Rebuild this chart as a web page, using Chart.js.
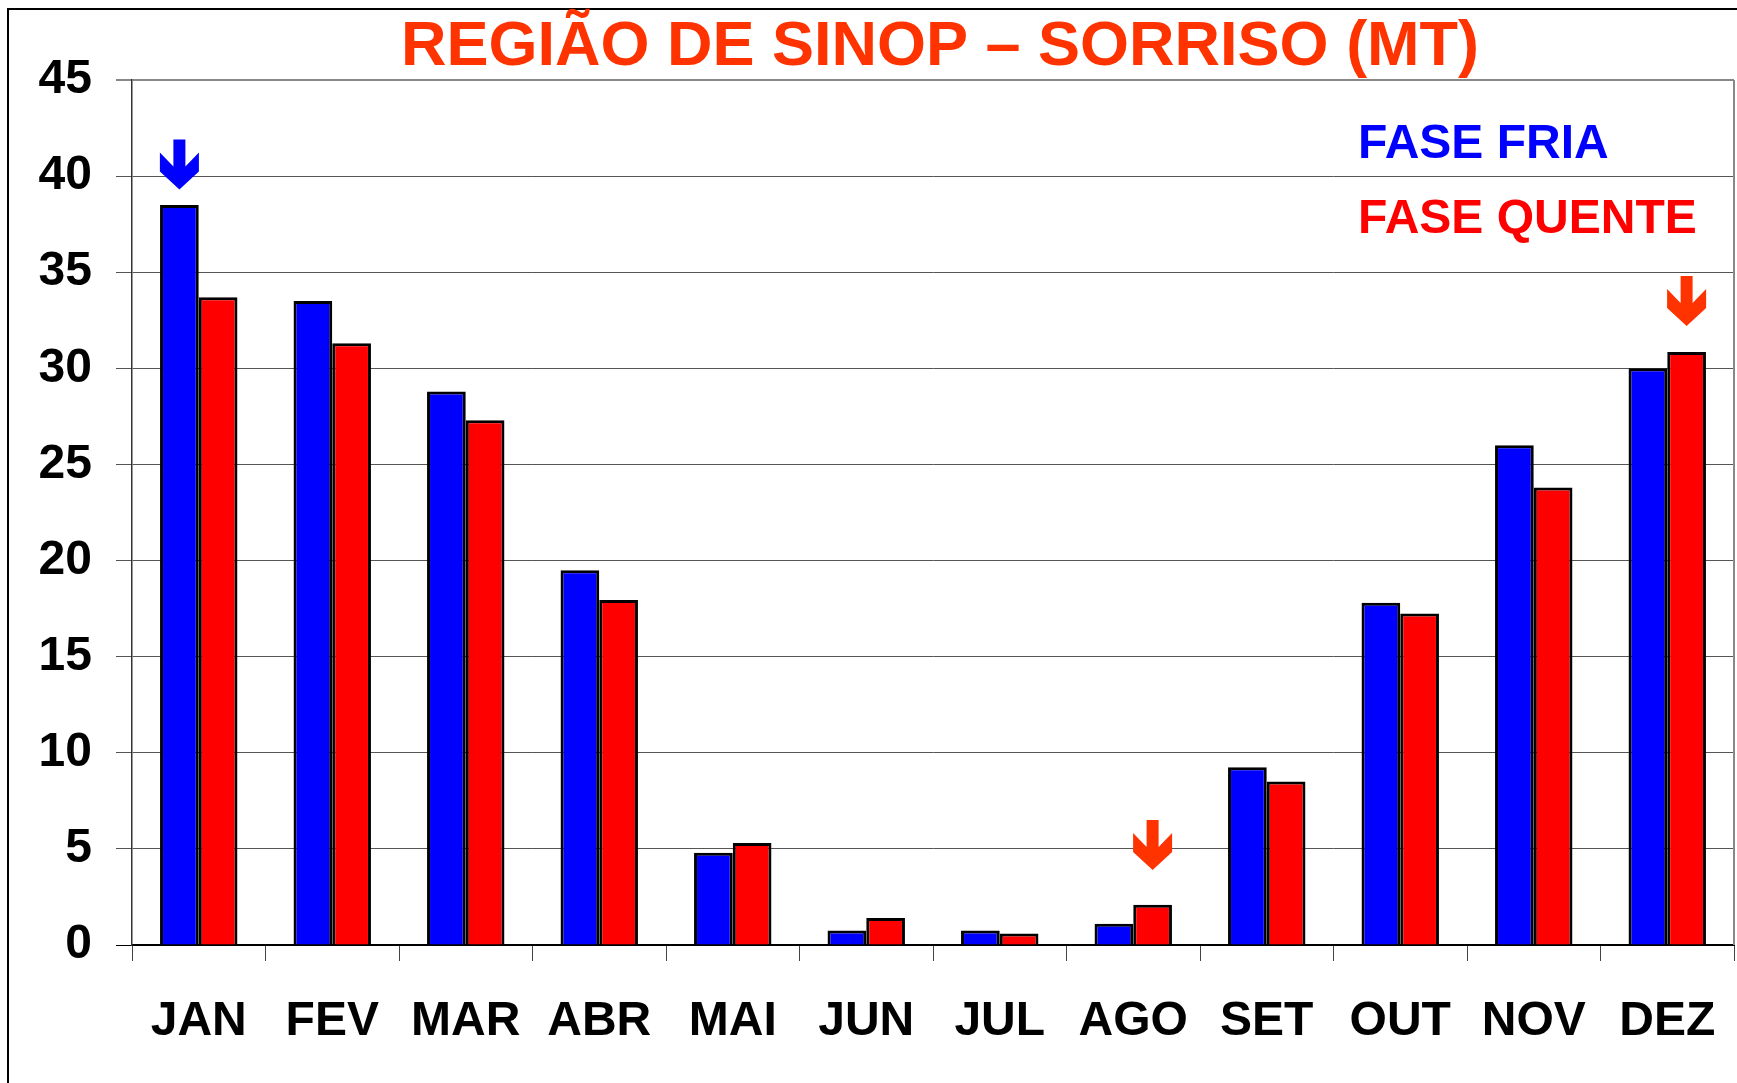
<!DOCTYPE html>
<html lang="pt-BR">
<head>
<meta charset="utf-8">
<title>Região de Sinop – Sorriso (MT)</title>
<script src="https://cdn.jsdelivr.net/npm/chart.js@4.4.1/dist/chart.umd.min.js"></script>
<style>
    html, body { margin: 0; padding: 0; background: #fff; }
    canvas { display: block; }
</style>
</head>
<body>
<canvas id="grafico" width="1737" height="1083"></canvas>
<script>
// meses e valores das duas fases
const meses = ['JAN', 'FEV', 'MAR', 'ABR', 'MAI', 'JUN', 'JUL', 'AGO', 'SET', 'OUT', 'NOV', 'DEZ'];
const faseFria = [38.5, 33.5, 28.8, 19.5, 4.8, 0.75, 0.75, 1.1, 9.25, 17.8, 26.0, 30.0];
const faseQuente = [33.7, 31.3, 27.3, 17.95, 5.3, 1.4, 0.6, 2.1, 8.5, 17.25, 23.8, 30.85];

const yMax = 45;
const yStep = 5;

const titulo = 'REGIÃO DE SINOP – SORRISO (MT)';
const legendas = ['FASE FRIA', 'FASE QUENTE'];

// setas de destaque: serie, mes e valor onde fica a ponta
const setas = [
    { serie: 0, mes: 'JAN', ponta: 39.3 },
    { serie: 1, mes: 'AGO', ponta: 3.9 },
    { serie: 1, mes: 'DEZ', ponta: 32.2 }
];

const AZUL = '#0000FF';
const VERMELHO = '#FF0000';
const LARANJA = '#FF3300';
const FONTE = "'Liberation Sans', Arial, sans-serif";

function desenhaSeta(ctx, cx, tipY, cor) {
    // seta para baixo com cabeça em V
    const haste = 6, cabeca = 19.5;
    ctx.save();
    ctx.fillStyle = cor;
    ctx.beginPath();
    ctx.moveTo(cx - haste, tipY - 50);
    ctx.lineTo(cx + haste, tipY - 50);
    ctx.lineTo(cx + haste, tipY - 23);
    ctx.lineTo(cx + cabeca, tipY - 37);
    ctx.lineTo(cx + cabeca, tipY - 18);
    ctx.lineTo(cx, tipY);
    ctx.lineTo(cx - cabeca, tipY - 18);
    ctx.lineTo(cx - cabeca, tipY - 37);
    ctx.lineTo(cx - haste, tipY - 23);
    ctx.closePath();
    ctx.fill();
    ctx.restore();
}

const decoracao = {
    id: 'decoracao',
    afterDraw(chart) {
        const ctx = chart.ctx;
        const area = chart.chartArea;
        const y = chart.scales.y;

        ctx.save();
        // moldura externa
        ctx.strokeStyle = '#000';
        ctx.lineWidth = 2;
        ctx.beginPath();
        ctx.moveTo(8, chart.height);
        ctx.lineTo(8, 9);
        ctx.lineTo(chart.width, 9);
        ctx.stroke();

        // borda direita da area de plotagem
        ctx.strokeStyle = '#888';
        ctx.lineWidth = 2;
        ctx.beginPath();
        ctx.moveTo(area.right, area.top);
        ctx.lineTo(area.right, area.bottom);
        ctx.stroke();

        // titulo
        ctx.fillStyle = LARANJA;
        ctx.font = 'bold 63px ' + FONTE;
        ctx.textAlign = 'center';
        ctx.textBaseline = 'alphabetic';
        ctx.fillText(titulo, (area.left + area.right) / 2 + 7, 65);

        // legenda em texto colorido
        ctx.font = 'bold 48px ' + FONTE;
        ctx.textAlign = 'left';
        ctx.fillStyle = AZUL;
        ctx.fillText(legendas[0], 1358, 158);
        ctx.fillStyle = VERMELHO;
        ctx.fillText(legendas[1], 1358, 233);
        ctx.restore();

        setas.forEach(s => {
            const meta = chart.getDatasetMeta(s.serie);
            const barra = meta.data[meses.indexOf(s.mes)];
            const cor = s.serie === 0 ? AZUL : LARANJA;
            desenhaSeta(ctx, barra.x, y.getPixelForValue(s.ponta), cor);
        });
    }
};

new Chart(document.getElementById('grafico'), {
    type: 'bar',
    data: {
        labels: meses,
        datasets: [
            {
                label: legendas[0],
                data: faseFria,
                backgroundColor: AZUL,
                borderColor: '#000',
                borderWidth: 3,
                categoryPercentage: 0.58,
                barPercentage: 1
            },
            {
                label: legendas[1],
                data: faseQuente,
                backgroundColor: VERMELHO,
                borderColor: '#000',
                borderWidth: 3,
                categoryPercentage: 0.58,
                barPercentage: 1
            }
        ]
    },
    options: {
        responsive: false,
        animation: false,
        layout: { padding: { top: 80, right: 3, bottom: 0, left: 0 } },
        plugins: {
            legend: { display: false },
            title: { display: false },
            tooltip: { enabled: false }
        },
        scales: {
            x: {
                grid: {
                    drawOnChartArea: false,
                    drawTicks: true,
                    tickLength: 16,
                    color: '#444'
                },
                border: { color: '#000', width: 2 },
                ticks: {
                    color: '#000',
                    padding: 32,
                    font: { family: FONTE, size: 48, weight: 'bold' }
                },
                afterFit(scale) {
                    scale.height = 138;
                    scale.paddingLeft = 0;
                    scale.paddingRight = 0;
                }
            },
            y: {
                min: 0,
                max: yMax,
                grid: {
                    tickLength: 16,
                    color: ctx => ctx.tick.value === yMax ? '#888' : (ctx.tick.value === 0 ? '#000' : '#555'),
                    lineWidth: ctx => ctx.tick.value === yMax ? 2 : 1
                },
                border: { color: '#333', width: 1.5 },
                ticks: {
                    stepSize: yStep,
                    color: '#000',
                    padding: 24,
                    font: { family: FONTE, size: 48, weight: 'bold' }
                },
                afterFit(scale) { scale.width = 132; }
            }
        }
    },
    plugins: [decoracao]
});
</script>
</body>
</html>
